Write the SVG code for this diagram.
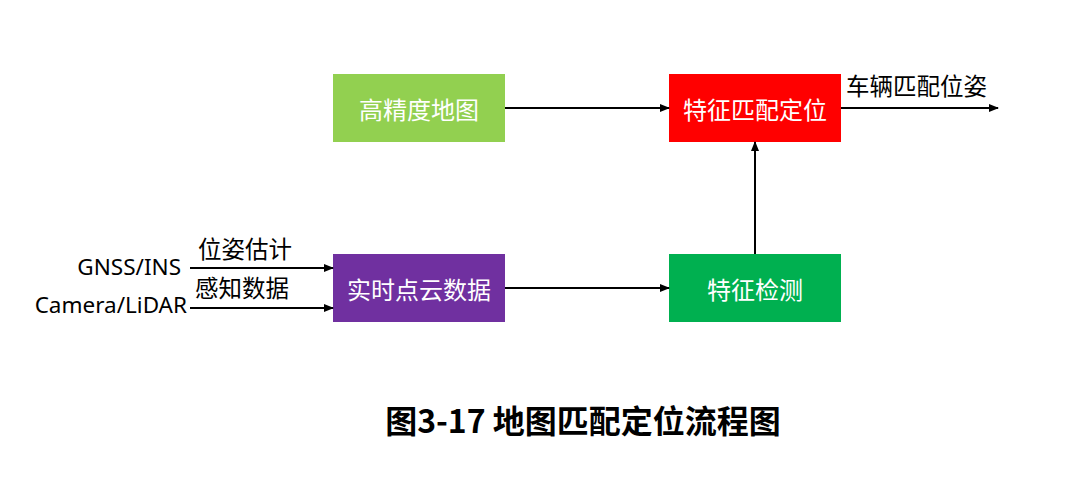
<svg xmlns="http://www.w3.org/2000/svg" width="1074" height="479" viewBox="0 0 1074 479">
<defs>
<marker id="ah" markerWidth="10" markerHeight="8" refX="9" refY="4" orient="auto" markerUnits="userSpaceOnUse">
<path d="M0,0 L10,4 L0,8 Z" fill="#000"/>
</marker>
<style>
.box text{font-family:"Noto Sans CJK SC","Noto Sans",sans-serif;font-size:24px;fill:#fff;text-anchor:middle;dominant-baseline:central}
.lbl{font-family:"Noto Sans CJK SC","Noto Sans",sans-serif;font-size:23.5px;fill:#000}
.lat{font-family:"Noto Sans","Noto Sans CJK SC",sans-serif;font-size:22.5px;fill:#000;text-anchor:end}
.conn line{stroke:#000;stroke-width:2;marker-end:url(#ah)}
.cap{font-family:"Noto Sans CJK SC","Noto Sans",sans-serif;font-size:32px;font-weight:bold;fill:#000;text-anchor:middle}
</style>
</defs>
<rect width="1074" height="479" fill="#fff"/>
<g id="n-hdmap" class="box"><rect x="333" y="74" width="172" height="68" fill="#92D050"/><text x="419" y="108">高精度地图</text></g>
<g id="n-match" class="box"><rect x="669" y="74" width="172" height="68" fill="#FF0000"/><text x="755" y="108">特征匹配定位</text></g>
<g id="n-cloud" class="box"><rect x="333" y="254" width="172" height="68" fill="#7030A0"/><text x="419" y="288">实时点云数据</text></g>
<g id="n-detect" class="box"><rect x="669" y="254" width="172" height="68" fill="#00B050"/><text x="755" y="288">特征检测</text></g>
<g id="connectors" class="conn">
<line x1="505" y1="108" x2="669" y2="108"/>
<line x1="841" y1="108" x2="998" y2="108"/>
<line x1="755" y1="254" x2="755" y2="142"/>
<line x1="505" y1="288" x2="669" y2="288"/>
<line x1="190" y1="268" x2="333" y2="268"/>
<line x1="190" y1="308" x2="333" y2="308"/>
</g>
<g id="labels">
<text class="lbl" x="846" y="95">车辆匹配位姿</text>
<text class="lbl" x="198" y="258">位姿估计</text>
<text class="lbl" x="195" y="297">感知数据</text>
<text class="lat" x="181" y="275">GNSS/INS</text>
<text class="lat" x="187" y="313">Camera/LiDAR</text>
</g>
<text class="cap" x="583" y="433">图3-17 地图匹配定位流程图</text>
</svg>
